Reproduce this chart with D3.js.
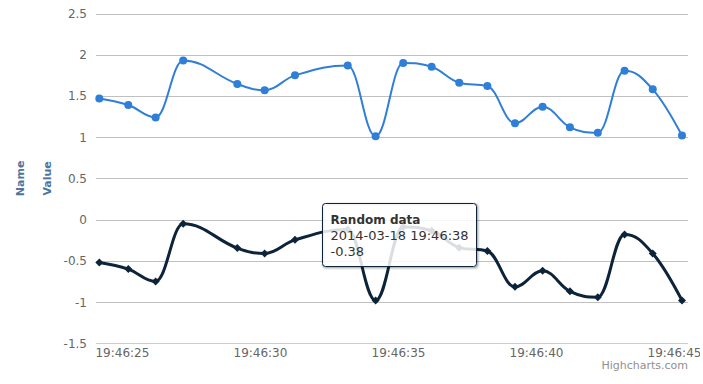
<!DOCTYPE html>
<html>
<head>
<meta charset="utf-8">
<script src="https://cdn.jsdelivr.net/npm/d3@7"></script>
<style>
  body { margin: 0; background: #fff; }
  svg { display: block; font-family: "DejaVu Sans", Verdana, sans-serif; }
</style>
</head>
<body>
<svg></svg>
<script>
// seconds after 2014-03-18 19:46:00
let seconds = [24.18, 25.23, 26.22, 27.22, 29.18, 30.17, 31.27, 33.18, 34.19, 35.19,
               36.22, 37.22, 38.24, 39.24, 40.24, 41.23, 42.24, 43.21, 44.23, 45.29]
let blueValues = [1.47, 1.39, 1.24, 1.93, 1.645, 1.57, 1.75, 1.87, 1.01, 1.90,
                  1.855, 1.66, 1.62, 1.17, 1.37, 1.12, 1.055, 1.805, 1.58, 1.02]
let darkValues = [-0.52, -0.6, -0.75, -0.05, -0.345, -0.41, -0.245, -0.12, -0.98, -0.09,
                  -0.135, -0.34, -0.38, -0.815, -0.62, -0.87, -0.94, -0.18, -0.41, -0.98]
let yTicks = [-1.5, -1, -0.5, 0, 0.5, 1, 1.5, 2, 2.5]
let seriesName = 'Random data'
let hoverIndex = 12

let width = 703
let height = 384
let plotLeft = 96
let plotRight = 688
let plotTop = 13.5
let plotBottom = 343.3

let svg = d3.select('svg').attr('width', width).attr('height', height)

svg.append('defs').append('clipPath').attr('id', 'chartClip')
  .append('rect').attr('x', 0).attr('y', 0).attr('width', 700).attr('height', height)

let times = seconds.map(s => new Date(2014, 2, 18, 19, 46, Math.floor(s), Math.round((s % 1) * 1000)))

let xScale = d3.scaleTime()
  .domain([times[0], times[times.length - 1]])
  .range([plotLeft + 3.3, plotRight - 6])

let yScale = d3.scaleLinear()
  .domain([-1.5, 2.5])
  .range([plotBottom, plotTop])

// highcharts style spline
let hcSpline = (context) => {
  let pts = []
  return {
    areaStart() {}, areaEnd() {},
    lineStart() { pts = [] },
    point(x, y) { pts.push({ x: x, y: y }) },
    lineEnd() {
      let s = 1.5, d = s + 1
      pts.forEach((p, i) => {
        if (i && i < pts.length - 1) {
          let l = pts[i - 1], n = pts[i + 1]
          let lcx = (s * p.x + l.x) / d, lcy = (s * p.y + l.y) / d
          let rcx = (s * p.x + n.x) / d, rcy = (s * p.y + n.y) / d
          let corr = 0
          if (rcx !== lcx) corr = ((rcy - lcy) * (rcx - p.x)) / (rcx - lcx) + p.y - rcy
          lcy += corr; rcy += corr
          if (lcy > l.y && lcy > p.y) { lcy = Math.max(l.y, p.y); rcy = 2 * p.y - lcy }
          else if (lcy < l.y && lcy < p.y) { lcy = Math.min(l.y, p.y); rcy = 2 * p.y - lcy }
          if (rcy > n.y && rcy > p.y) { rcy = Math.max(n.y, p.y); lcy = 2 * p.y - rcy }
          else if (rcy < n.y && rcy < p.y) { rcy = Math.min(n.y, p.y); lcy = 2 * p.y - rcy }
          p.lc = [lcx, lcy]; p.rc = [rcx, rcy]
        }
      })
      pts.forEach((p, i) => {
        if (i === 0) { context.moveTo(p.x, p.y); return }
        let l = pts[i - 1]
        let a = l.rc || [l.x, l.y], b = p.lc || [p.x, p.y]
        context.bezierCurveTo(a[0], a[1], b[0], b[1], p.x, p.y)
      })
    }
  }
}

// grid
svg.append('g').selectAll('line')
  .data(yTicks)
  .enter()
  .append('line')
  .attr('x1', plotLeft).attr('x2', plotRight)
  .attr('y1', d => Math.round(yScale(d)) + 0.5)
  .attr('y2', d => Math.round(yScale(d)) + 0.5)
  .attr('stroke', '#c0c0c0')

// y labels
svg.append('g').selectAll('text')
  .data(yTicks)
  .enter()
  .append('text')
  .attr('x', 87)
  .attr('y', d => yScale(d) + 4.5)
  .attr('text-anchor', 'end')
  .attr('font-size', 12)
  .attr('fill', '#666')
  .text(d => String(d))

// x axis
let xAxis = d3.axisBottom(xScale)
  .ticks(d3.timeSecond.every(5))
  .tickFormat(d3.timeFormat('%H:%M:%S'))
  .tickSize(0)
  .tickPadding(5)

let xg = svg.append('g')
  .attr('clip-path', 'url(#chartClip)')
  .append('g')
  .attr('transform', 'translate(0,' + (Math.round(plotBottom) + 0.5) + ')')
  .call(xAxis)
xg.select('.domain').attr('d', 'M' + plotLeft + ',0H' + plotRight).attr('stroke', '#c0d0e0')
xg.selectAll('text')
  .attr('font-family', '"DejaVu Sans", Verdana, sans-serif')
  .attr('font-size', 12)
  .attr('fill', '#666')

// axis titles
let midY = (plotTop + plotBottom) / 2
svg.append('text')
  .attr('transform', 'translate(24,' + midY + ') rotate(-90)')
  .attr('text-anchor', 'middle')
  .attr('font-size', 11)
  .attr('font-weight', 'bold')
  .attr('fill', '#4d759e')
  .text('Name')
svg.append('text')
  .attr('transform', 'translate(50.5,' + midY + ') rotate(-90)')
  .attr('text-anchor', 'middle')
  .attr('font-size', 11)
  .attr('font-weight', 'bold')
  .attr('fill', '#4d759e')
  .text('Value')

let line = (vals) => d3.line()
  .x((d, i) => xScale(times[i]))
  .y(d => yScale(d))
  .curve(hcSpline)(vals)

// blue series
svg.append('path')
  .attr('d', line(blueValues))
  .attr('fill', 'none')
  .attr('stroke', '#2f7ed8')
  .attr('stroke-width', 2)
  .attr('stroke-linejoin', 'round')

svg.append('g').selectAll('circle')
  .data(blueValues)
  .enter()
  .append('circle')
  .attr('cx', (d, i) => xScale(times[i]))
  .attr('cy', d => yScale(d))
  .attr('r', 4)
  .attr('fill', '#2f7ed8')

// dark series (hovered, so thicker)
svg.append('path')
  .attr('d', line(darkValues))
  .attr('fill', 'none')
  .attr('stroke', '#0d233a')
  .attr('stroke-width', 3)
  .attr('stroke-linejoin', 'round')

svg.append('g').selectAll('path')
  .data(darkValues)
  .enter()
  .append('path')
  .attr('d', (d, i) => {
    let x = xScale(times[i]), y = yScale(d), r = 4
    return 'M' + x + ',' + (y - r) + 'L' + (x + r) + ',' + y + 'L' + x + ',' + (y + r) + 'L' + (x - r) + ',' + y + 'Z'
  })
  .attr('fill', '#0d233a')

// tooltip
let px = xScale(times[hoverIndex])
let py = yScale(darkValues[hoverIndex])
let tip = svg.append('g')
let tipLines = [seriesName, d3.timeFormat('%Y-%m-%d %H:%M:%S')(times[hoverIndex]), String(darkValues[hoverIndex])]
let tipText = tip.append('text')
  .attr('fill', '#333')
tipText.selectAll('tspan')
  .data(tipLines)
  .enter()
  .append('tspan')
  .attr('x', 8)
  .attr('y', (d, i) => 20 + i * 16)
  .attr('font-size', (d, i) => i === 0 ? 12 : 13)
  .attr('font-weight', (d, i) => i === 0 ? 'bold' : 'normal')
  .text(d => d)
let bb = tipText.node().getBBox()
let boxW = Math.round(bb.width + 16)
let boxH = 63
let boxX = Math.round(px - 11 - boxW)
let boxY = Math.round(py - 48)
tip.attr('transform', 'translate(' + (boxX + 0.5) + ',' + (boxY + 0.5) + ')')
;[5, 3, 1].forEach((w, i) => {
  tip.insert('rect', 'text')
    .attr('x', 1).attr('y', 1)
    .attr('width', boxW).attr('height', boxH)
    .attr('rx', 3)
    .attr('fill', 'none')
    .attr('stroke', 'rgba(0,0,0,' + (0.05 * (i + 1)) + ')')
    .attr('stroke-width', w)
})
tip.insert('rect', 'text')
  .attr('width', boxW).attr('height', boxH)
  .attr('rx', 3)
  .attr('fill', 'rgba(255,255,255,0.85)')
  .attr('stroke', '#0d233a')
  .attr('stroke-width', 1)

// credits
svg.append('text')
  .attr('x', 688)
  .attr('y', 369)
  .attr('text-anchor', 'end')
  .attr('font-size', 11)
  .attr('fill', '#909090')
  .text('Highcharts.com')
</script>
</body>
</html>
